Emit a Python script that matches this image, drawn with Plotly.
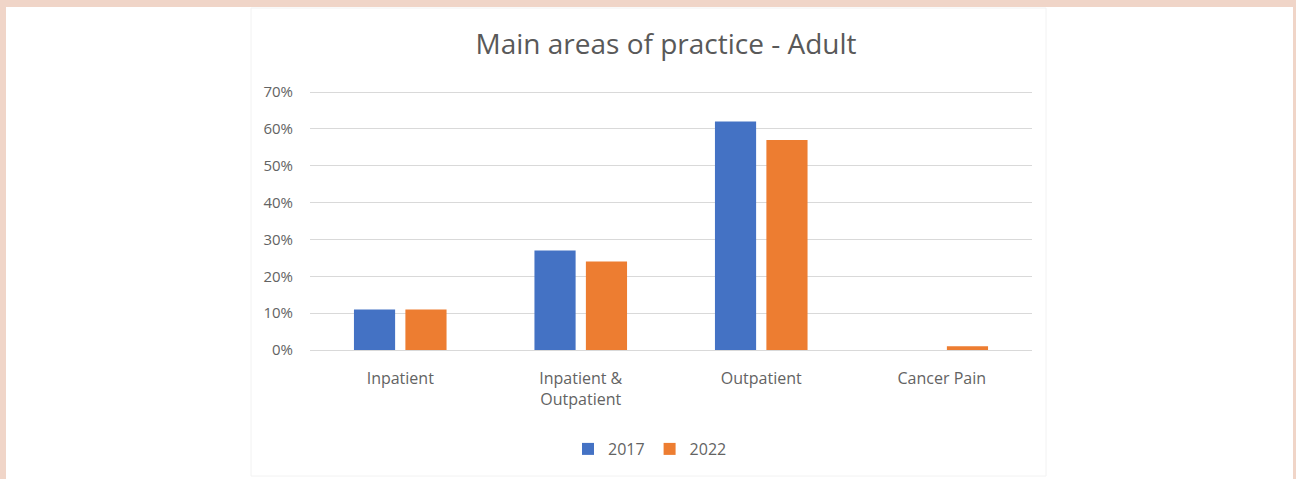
import plotly.graph_objects as go

categories = ["Inpatient", "Inpatient &<br>Outpatient", "Outpatient", "Cancer Pain"]
values_2017 = [0.11, 0.27, 0.62, 0.0]
values_2022 = [0.11, 0.24, 0.57, 0.01]
series_names = ["2017", "2022"]
tick_vals = [0, 0.1, 0.2, 0.3, 0.4, 0.5, 0.6, 0.7]
tick_text = ["0%", "10%", "20%", "30%", "40%", "50%", "60%", "70%"]

W, H = 1296, 479
L, R, T, B = 310, 1032, 86, 350  # plot area in pixels
Y_TOP_PX = 92  # pixel row of the 70% gridline
y_max = 0.7 * (B - T) / (B - Y_TOP_PX)

def px_x(p):
    return (p - L) / (R - L)

def px_y(p):
    return (B - p) / (B - T)

fig = go.Figure()
fig.add_trace(go.Bar(x=categories, y=values_2017, name=series_names[0],
                     marker=dict(color="#4472C4", line=dict(width=0))))
fig.add_trace(go.Bar(x=categories, y=values_2022, name=series_names[1],
                     marker=dict(color="#ED7D31", line=dict(width=0))))

fig.update_layout(
    width=W, height=H,
    margin=dict(l=L, r=W - R, t=T, b=H - B, pad=0),
    paper_bgcolor="#f0d5c8",
    plot_bgcolor="rgba(0,0,0,0)",
    barmode="group",
    bargap=0.43,
    bargroupgap=0.2,
    font=dict(family="Open Sans, Liberation Sans, sans-serif", color="#636363", size=16),
    title=dict(text="Main areas of practice - Adult", x=666 / W, xanchor="center",
               y=1 - 44 / H, yanchor="middle", yref="container",
               font=dict(size=28, color="#595959")),
    showlegend=True,
    legend=dict(orientation="h", x=px_x(650), xanchor="center", y=px_y(449), yanchor="middle",
                font=dict(size=16, color="#636363"), itemwidth=30, bgcolor="rgba(0,0,0,0)",
                traceorder="normal"),
    shapes=[
        dict(type="rect", xref="paper", yref="paper", x0=px_x(6), x1=px_x(1293),
             y0=px_y(479.5), y1=px_y(7), fillcolor="white", line=dict(width=0), layer="below"),
        dict(type="rect", xref="paper", yref="paper", x0=px_x(251), x1=px_x(1046),
             y0=px_y(476), y1=px_y(8), fillcolor="rgba(0,0,0,0)", line=dict(width=1, color="#f2f2f2"),
             layer="below"),
    ],
)

fig.update_yaxes(range=[0, y_max], tickvals=tick_vals, ticktext=tick_text,
                 showgrid=True, gridcolor="#d9d9d9", gridwidth=1, zeroline=False,
                 showline=False, ticks="", ticklabelstandoff=16,
                 tickfont=dict(size=15, color="#636363"))
fig.update_xaxes(showgrid=False, showline=True, linecolor="#d9d9d9", linewidth=1,
                 ticks="", tickfont=dict(size=16, color="#636363"), ticklabelstandoff=14)

fig.write_html("out.html")
